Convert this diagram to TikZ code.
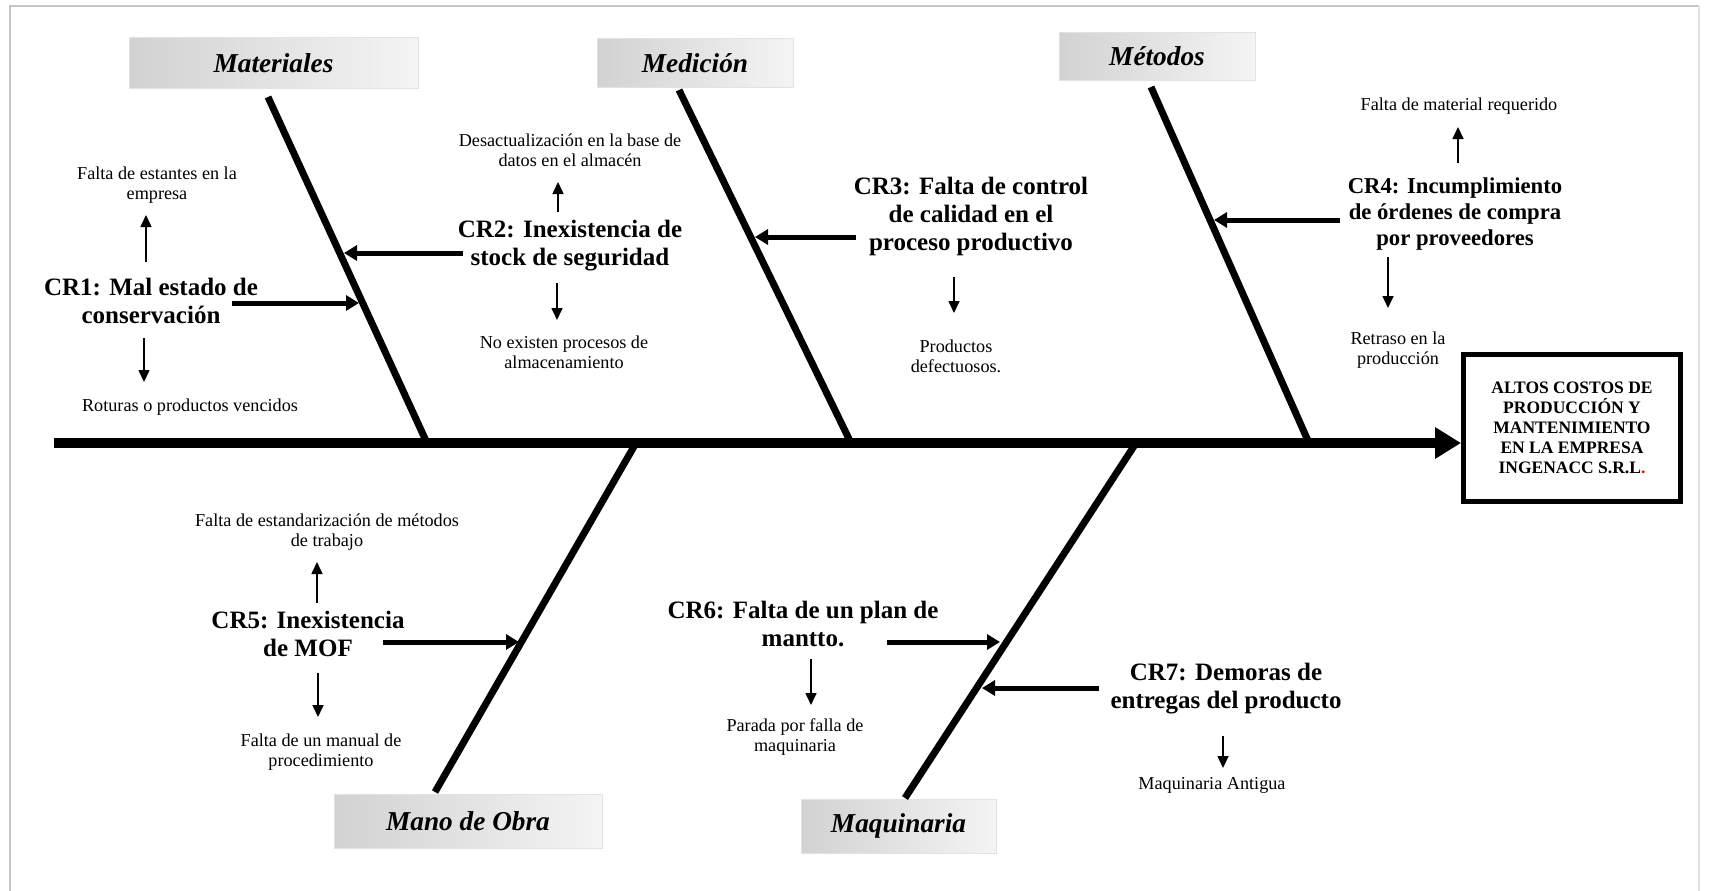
\documentclass[tikz,border=0pt]{standalone}
\usepackage{fontspec}
\setmainfont{Liberation Serif}
\usetikzlibrary{arrows.meta}

\definecolor{catdark}{RGB}{210,210,210}
\definecolor{catlight}{RGB}{244,244,244}
\definecolor{catedge}{RGB}{226,226,226}
\definecolor{framegray}{RGB}{198,198,198}

\tikzset{
  bone/.style={line width=7pt, line cap=butt},
  spine/.style={line width=10pt, -{Triangle[length=26pt,width=30pt]}},
  causearrow/.style={line width=5pt, -{Triangle[length=13pt,width=15pt]}},
  subarrow/.style={line width=1.6pt, -{Triangle[length=12pt,width=11pt]}},
  catbox/.style={draw=catedge, line width=1pt, left color=catdark, right color=catlight,
    inner sep=0pt, font={\fontsize{27.3}{30}\selectfont\bfseries\itshape}},
  crtext/.style={align=center, inner sep=0pt, font={\fontsize{25}{28}\selectfont\bfseries}},
  subtext/.style={align=center, inner sep=0pt, font={\fontsize{18.2}{20}\selectfont}},
  effectbox/.style={draw, line width=5pt, minimum width=217pt, minimum height=147pt,
    inner sep=0pt, align=center, font={\fontsize{17.5}{20}\selectfont\bfseries}},
}

\begin{document}
\begin{tikzpicture}[x=1pt, y=-1pt]
\useasboundingbox (0,0) rectangle (1713,891);

% page frame
\draw[framegray, line width=2pt] (10,891) -- (10,6) -- (1699,6);
\draw[framegray!50, line width=1.5pt] (1699,6) -- (1699,891);

% category headers
\node[catbox, minimum width=289pt, minimum height=50pt] (mat) at (273.5,63) {Materiales};
\node[catbox, minimum width=196pt, minimum height=48pt] (med) at (695,63) {Medición};
\node[catbox, minimum width=196pt, minimum height=47pt] (met) at (1157,56.5) {Métodos};
\node[catbox, minimum width=268pt, minimum height=54pt] (man) at (468,821) {Mano de Obra};
\node[catbox, minimum width=195pt, minimum height=54pt] (maq) at (898.5,826) {Maquinaria};

% effect
\node[effectbox] (effect) at (1572,428)
  {ALTOS COSTOS DE\\PRODUCCIÓN Y\\MANTENIMIENTO\\EN LA EMPRESA\\INGENACC S.R.L\textcolor{red}{.}};

% spine, horizontal, ending on the left side of the effect box
\coordinate (tail) at (54,443);
\draw[spine] (tail) -- (effect.west |- tail);

% bones
\coordinate (matTop) at (268,97);   \coordinate (matFoot) at (427,443);
\coordinate (medTop) at (679,90);   \coordinate (medFoot) at (851,443);
\coordinate (metTop) at (1151,87);  \coordinate (metFoot) at (1309,443);
\coordinate (manEnd) at (435,792);  \coordinate (manFoot) at (636,443);
\coordinate (maqEnd) at (905,798);  \coordinate (maqFoot) at (1136,443);
\draw[bone] (matTop) -- (matFoot);
\draw[bone] (medTop) -- (medFoot);
\draw[bone] (metTop) -- (metFoot);
\draw[bone] (manEnd) -- (manFoot);
\draw[bone] (maqEnd) -- (maqFoot);

% main causes
\node[crtext] (cr1) at (151,301) {CR1: Mal estado de\\conservación};
\node[crtext] (cr2) at (570,246) {CR2: Inexistencia de\\stock de seguridad};
\node[crtext] (cr3) at (971,216.5) {CR3: Falta de control\\de calidad en el\\proceso productivo};
\node[crtext, font={\fontsize{22.7}{26}\selectfont\bfseries}] (cr4) at (1455,214)
  {CR4: Incumplimiento\\de órdenes de compra\\por proveedores};
\node[crtext] (cr5) at (308,634) {CR5: Inexistencia\\de MOF};
\node[crtext] (cr6) at (803,624) {CR6: Falta de un plan de\\mantto.};
\node[crtext] (cr7) at (1226,689) {CR7: Demoras de\\entregas del producto};

% sub-causes
\node[subtext] (s1a) at (157,185) {Falta de estantes en la\\empresa};
\node[subtext] (s1b) at (190,407) {Roturas o productos vencidos};
\node[subtext] (s2a) at (570,150) {Desactualización en la base de\\datos en el almacén};
\node[subtext] (s2b) at (564,352.5) {No existen procesos de\\almacenamiento};
\node[subtext] (s3)  at (956,356) {Productos\\defectuosos.};
\node[subtext] (s4a) at (1459,106) {Falta de material requerido};
\node[subtext] (s4b) at (1398,350) {Retraso en la\\producción};
\node[subtext] (s5a) at (327,532) {Falta de estandarización de métodos\\de trabajo};
\node[subtext] (s5b) at (321,752) {Falta de un manual de\\procedimiento};
\node[subtext] (s6)  at (795,737) {Parada por falla de\\maquinaria};
\node[subtext] (s7)  at (1212,785) {Maquinaria Antigua};

% cause arrows into the bones
\coordinate (a1s) at (232,303);  \coordinate (a1e) at (359,303);
\coordinate (a2s) at (463,253);  \coordinate (a2e) at (344,253);
\coordinate (a3s) at (856,237);  \coordinate (a3e) at (755,237);
\coordinate (a4s) at (1340,220); \coordinate (a4e) at (1214,220);
\coordinate (a5s) at (383,642);  \coordinate (a5e) at (519,642);
\coordinate (a6s) at (887,642);  \coordinate (a6e) at (1000,642);
\coordinate (a7s) at (1099,688); \coordinate (a7e) at (982,688);
\foreach \i in {1,...,7} \draw[causearrow] (a\i s) -- (a\i e);

% arrows from causes to sub-causes
\coordinate (u1s) at (146,262);  \coordinate (u1e) at (146,215);
\coordinate (d1s) at (144,338);  \coordinate (d1e) at (144,382);
\coordinate (u2s) at (558,212);  \coordinate (u2e) at (558,182);
\coordinate (d2s) at (557,283);  \coordinate (d2e) at (557,320);
\coordinate (d3s) at (954,277);  \coordinate (d3e) at (954,313);
\coordinate (u4s) at (1458,163); \coordinate (u4e) at (1458,127);
\coordinate (d4s) at (1388,257); \coordinate (d4e) at (1388,308);
\coordinate (u5s) at (317,603);  \coordinate (u5e) at (317,562);
\coordinate (d5s) at (318,673);  \coordinate (d5e) at (318,717);
\coordinate (d6s) at (811,659);  \coordinate (d6e) at (811,705);
\coordinate (d7s) at (1223,736); \coordinate (d7e) at (1223,768);
\foreach \p in {u1,d1,u2,d2,d3,u4,d4,u5,d5,d6,d7} \draw[subarrow] (\p s) -- (\p e);
\end{tikzpicture}
\end{document}
